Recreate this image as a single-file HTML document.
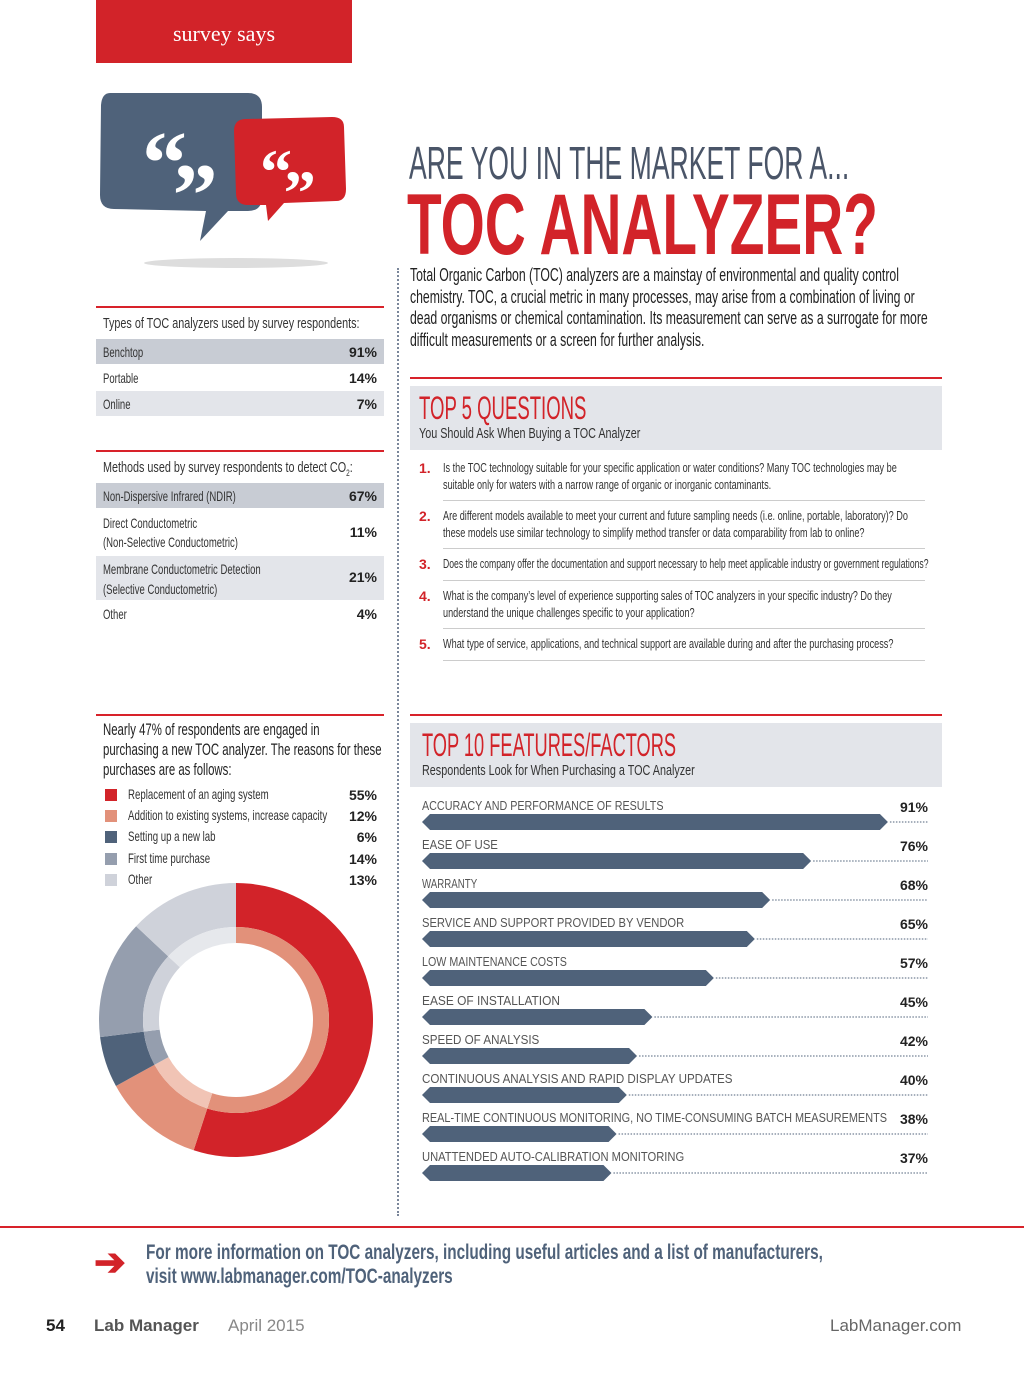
<!DOCTYPE html>
<html><head><meta charset="utf-8">
<style>
body{margin:0;width:1024px;height:1376px;background:#fff;position:relative;overflow:hidden;font-family:"Liberation Sans",sans-serif;color:#333}
.a{position:absolute;white-space:nowrap}
.c{display:inline-block;transform-origin:left top;white-space:nowrap}
.pct{font-family:"Liberation Sans",sans-serif;font-weight:bold;font-size:14px;color:#222}
.rl{position:absolute;height:2px;background:#d8222a}
.row{position:absolute;left:96px;width:288px}
.lab{font-size:14px;transform:scaleX(.68)}
</style></head><body>
<div class="a" style="left:96px;top:0;width:256px;height:63px;background:#d22329;color:#fff;font-family:'Liberation Serif',serif;font-size:22px;text-align:center;line-height:68px">survey says</div>

<svg class="a" style="left:96px;top:85px" width="260" height="190">
<ellipse cx="140" cy="178" rx="92" ry="5" fill="#ddd"/>
<path d="M14 8 Q6 8 5 20 L4 110 Q4 124 18 124 L110 126 L104 156 L132 126 L152 126 Q166 126 166 112 L166 22 Q166 8 152 8 Z" fill="#4f627a"/>
<path d="M150 34 Q138 34 138 46 L140 108 Q140 120 152 120 L170 120 L172 136 L188 118 L240 116 Q250 116 250 104 L248 42 Q248 32 236 32 Z" fill="#d22329"/>
<text x="46" y="108" font-size="90" font-weight="bold" fill="#fff" font-family="Liberation Serif">“</text>
<text x="86" y="108" font-size="90" font-weight="bold" fill="#fff" font-family="Liberation Serif" transform="rotate(180 104 78)">“</text>
<text x="164" y="108" font-size="64" font-weight="bold" fill="#fff" font-family="Liberation Serif">“</text>
<text x="196" y="108" font-size="64" font-weight="bold" fill="#fff" font-family="Liberation Serif" transform="rotate(180 208 86)">“</text>
</svg>

<div class="a" style="left:409px;top:136px"><span class="c" style="font-size:46px;color:#4a5568;transform:scaleX(.578)">ARE YOU IN THE MARKET FOR A...</span></div>
<div class="a" style="left:407px;top:176px"><span class="c" style="font-size:86px;font-weight:bold;color:#d22329;transform:scaleX(.66)">TOC ANALYZER?</span></div>
<div class="a" style="left:410px;top:265px"><span class="c" style="font-size:18px;line-height:21.5px;color:#222;transform:scaleX(.68)">Total Organic Carbon (TOC) analyzers are a mainstay of environmental and quality control<br>chemistry. TOC, a crucial metric in many processes, may arise from a combination of living or<br>dead organisms or chemical contamination. Its measurement can serve as a surrogate for more<br>difficult measurements or a screen for further analysis.</span></div>

<div class="a" style="left:397px;top:268px;height:948px;border-left:2px dotted #7a869a"></div>

<div class="rl" style="left:96px;top:306px;width:288px"></div>
<div class="a" style="left:103px;top:315px"><span class="c" style="font-size:15px;transform:scaleX(.72)">Types of TOC analyzers used by survey respondents:</span></div>
<div class="row" style="top:339px;height:25px;background:#c8ccd4"><span class="a c lab" style="left:7px;top:5px">Benchtop</span><span class="a pct" style="right:7px;top:5px">91%</span></div>
<div class="row" style="top:365px;height:25px"><span class="a c lab" style="left:7px;top:5px">Portable</span><span class="a pct" style="right:7px;top:5px">14%</span></div>
<div class="row" style="top:391px;height:25px;background:#e3e5ea"><span class="a c lab" style="left:7px;top:5px">Online</span><span class="a pct" style="right:7px;top:5px">7%</span></div>

<div class="rl" style="left:96px;top:450px;width:288px"></div>
<div class="a" style="left:103px;top:459px"><span class="c" style="font-size:15px;transform:scaleX(.72)">Methods used by survey respondents to detect CO<sub style="font-size:9px">2</sub>:</span></div>
<div class="row" style="top:483px;height:25px;background:#c8ccd4"><span class="a c lab" style="left:7px;top:5px">Non-Dispersive Infrared (NDIR)</span><span class="a pct" style="right:7px;top:5px">67%</span></div>
<div class="row" style="top:510px;height:44px"><span class="a c lab" style="left:7px;top:4px;line-height:19px">Direct Conductometric<br>(Non-Selective Conductometric)</span><span class="a pct" style="right:7px;top:14px">11%</span></div>
<div class="row" style="top:556px;height:44px;background:#e3e5ea"><span class="a c lab" style="left:7px;top:3px;line-height:20px">Membrane Conductometric Detection<br>(Selective Conductometric)</span><span class="a pct" style="right:7px;top:13px">21%</span></div>
<div class="row" style="top:601px;height:25px"><span class="a c lab" style="left:7px;top:5px">Other</span><span class="a pct" style="right:7px;top:5px">4%</span></div>

<div class="rl" style="left:96px;top:714px;width:288px"></div>
<div class="a" style="left:103px;top:720px"><span class="c" style="font-size:17px;line-height:20px;color:#222;transform:scaleX(.67)">Nearly 47% of respondents are engaged in<br>purchasing a new TOC analyzer. The reasons for these<br>purchases are as follows:</span></div>
<div id="legend"></div>
<svg class="a" id="donut" style="left:96px;top:880px" width="280" height="280"></svg>

<div class="rl" style="left:410px;top:377px;width:532px"></div>
<div class="a" style="left:410px;top:386px;width:532px;height:64px;background:#e3e5ea"></div>
<div class="a" style="left:419px;top:390px"><span class="c" style="font-size:32px;color:#d22329;transform:scaleX(.58)">TOP 5 QUESTIONS</span></div>
<div class="a" style="left:419px;top:425px"><span class="c" style="font-size:15px;transform:scaleX(.72)">You Should Ask When Buying a TOC Analyzer</span></div>
<div id="qs"></div>

<div class="rl" style="left:410px;top:714px;width:532px"></div>
<div class="a" style="left:410px;top:723px;width:532px;height:64px;background:#e3e5ea"></div>
<div class="a" style="left:422px;top:727px"><span class="c" style="font-size:32px;color:#d22329;transform:scaleX(.57)">TOP 10 FEATURES/FACTORS</span></div>
<div class="a" style="left:422px;top:762px"><span class="c" style="font-size:15px;transform:scaleX(.72)">Respondents Look for When Purchasing a TOC Analyzer</span></div>
<svg class="a" id="bars" style="left:410px;top:790px" width="532" height="400"></svg>

<div class="rl" style="left:0;top:1226px;width:1024px;height:1.5px"></div>
<div class="a" style="left:94px;top:1240px;font-size:38px;color:#d22329;font-weight:bold">➔</div>
<div class="a" style="left:146px;top:1241px"><span class="c" style="font-size:21px;line-height:24px;font-weight:bold;color:#4f627a;transform:scaleX(.73)">For more information on TOC analyzers, including useful articles and a list of manufacturers,<br>visit www.labmanager.com/TOC-analyzers</span></div>
<div class="a" style="left:46px;top:1316px;font-size:17px;font-weight:bold;color:#222">54</div>
<div class="a" style="left:94px;top:1316px;font-size:17px;font-weight:bold;color:#555">Lab Manager</div>
<div class="a" style="left:228px;top:1316px;font-size:17px;color:#888">April 2015</div>
<div class="a" style="left:830px;top:1316px;font-size:17px;color:#666">LabManager.com</div>

<script>
const reasons=["Replacement of an aging system","Addition to existing systems, increase capacity","Setting up a new lab","First time purchase","Other"];
const reasonVals=[55,12,6,14,13];
const outerColors=["#d22329","#e2917a","#4f627a","#959eae","#cfd2da"];
const innerColors=["#e2917a","#f1c4b5","#959eae","#cfd2da","#e6e8ec"];
const questions=["Is the TOC technology suitable for your specific application or water conditions? Many TOC technologies may be<br>suitable only for waters with a narrow range of organic or inorganic contaminants.",
"Are different models available to meet your current and future sampling needs (i.e. online, portable, laboratory)? Do<br>these models use similar technology to simplify method transfer or data comparability from lab to online?",
"Does the company offer the documentation and support necessary to help meet applicable industry or government regulations?",
"What is the company’s level of experience supporting sales of TOC analyzers in your specific industry? Do they<br>understand the unique challenges specific to your application?",
"What type of service, applications, and technical support are available during and after the purchasing process?"];
const features=["ACCURACY AND PERFORMANCE OF RESULTS","EASE OF USE","WARRANTY","SERVICE AND SUPPORT PROVIDED BY VENDOR","LOW MAINTENANCE COSTS","EASE OF INSTALLATION","SPEED OF ANALYSIS","CONTINUOUS ANALYSIS AND RAPID DISPLAY UPDATES","REAL-TIME CONTINUOUS MONITORING, NO TIME-CONSUMING BATCH MEASUREMENTS","UNATTENDED AUTO-CALIBRATION MONITORING"];
const featureVals=[91,76,68,65,57,45,42,40,38,37];

const lg=document.getElementById('legend');
reasons.forEach((r,i)=>{
 const d=document.createElement('div');d.className='a';d.style.cssText=`left:96px;top:${786+i*21.2}px;width:288px;height:20px`;
 
 
 d.innerHTML=`<span class="a" style="left:9px;top:3px;width:12px;height:12px;background:${outerColors[i]}"></span><span class="a c" style="left:32px;top:0;font-size:14px;transform:scaleX(.69)">${r}</span><span class="a pct" style="right:7px;top:1px">${reasonVals[i]}%</span>`;
 lg.appendChild(d);
});
const NS='http://www.w3.org/2000/svg',dn=document.getElementById('donut');
const cx=140,cy=140;
function arc(r0,r1,a0,a1,col){
 const p=(r,a)=>[cx+r*Math.sin(a),cy-r*Math.cos(a)];
 const lf=(a1-a0)>Math.PI?1:0;
 const [x1,y1]=p(r1,a0),[x2,y2]=p(r1,a1),[x3,y3]=p(r0,a1),[x4,y4]=p(r0,a0);
 const e=document.createElementNS(NS,'path');
 e.setAttribute('d',`M${x1} ${y1}A${r1} ${r1} 0 ${lf} 1 ${x2} ${y2}L${x3} ${y3}A${r0} ${r0} 0 ${lf} 0 ${x4} ${y4}Z`);
 e.setAttribute('fill',col);return e;}
const tot=reasonVals.reduce((a,b)=>a+b,0);let acc=0;
reasonVals.forEach((v,i)=>{
 const a0=acc/tot*2*Math.PI,a1=(acc+v)/tot*2*Math.PI;acc+=v;
 const o=arc(93,137,a0,a1,outerColors[i]);
 
 
 dn.appendChild(o);
 const n=arc(77,93,a0,a1,innerColors[i]);
 
 
 dn.appendChild(n);
});
const qs=document.getElementById('qs');
const qTop=[460,508,556,588,636];
questions.forEach((q,i)=>{
 const d=document.createElement('div');d.className='a';d.style.cssText=`left:419px;top:${qTop[i]}px;width:520px`;
 
 
 const sc=i==2?0.69:0.73;
 d.innerHTML=`<span class="a" style="left:0;top:0;font-weight:bold;font-size:14px;color:#d22329">${i+1}.</span><span class="a c" style="left:24px;top:0;font-size:12.5px;line-height:17px;color:#333;transform:scaleX(${sc})">${q}</span>`;
 qs.appendChild(d);
});
[500,548,580,628,660].forEach(y=>{
 const s=document.createElement('div');s.className='a';s.style.cssText=`left:443px;top:${y}px;width:482px;height:1px;background:#ccc`;
 
 
 qs.appendChild(s);
});
const bs=document.getElementById('bars');
const x0=12,xs=v=>x0+v*5.12,rowY=i=>i*39;
features.forEach((f,i)=>{
 const y=rowY(i),tip=xs(featureVals[i]),h=16,by=y+24;
 const t=document.createElementNS(NS,'text');t.setAttribute('x',12);t.setAttribute('y',y+20);t.setAttribute('font-size','12.5');t.setAttribute('fill','#555');t.setAttribute('textLength',Math.min(f.length*6.9,465));t.setAttribute('lengthAdjust','spacingAndGlyphs');t.textContent=f;
 
 
 bs.appendChild(t);
 const p=document.createElementNS(NS,'text');p.setAttribute('x',518);p.setAttribute('y',y+22);p.setAttribute('text-anchor','end');p.setAttribute('font-size','14');p.setAttribute('font-weight','bold');p.setAttribute('fill','#222');p.textContent=featureVals[i]+'%';
 
 
 bs.appendChild(p);
 const b=document.createElementNS(NS,'polygon');
 b.setAttribute('points',`${x0},${by+h/2} ${x0+8},${by} ${tip-8},${by} ${tip},${by+h/2} ${tip-8},${by+h} ${x0+8},${by+h}`);
 b.setAttribute('fill','#4f627a');
 
 
 bs.appendChild(b);
 const l=document.createElementNS(NS,'line');l.setAttribute('x1',tip+2);l.setAttribute('x2',518);l.setAttribute('y1',by+h/2);l.setAttribute('y2',by+h/2);l.setAttribute('stroke','#4f627a');l.setAttribute('stroke-dasharray','1.5 1.5');
 
 
 bs.appendChild(l);
});
</script>
</body></html>
